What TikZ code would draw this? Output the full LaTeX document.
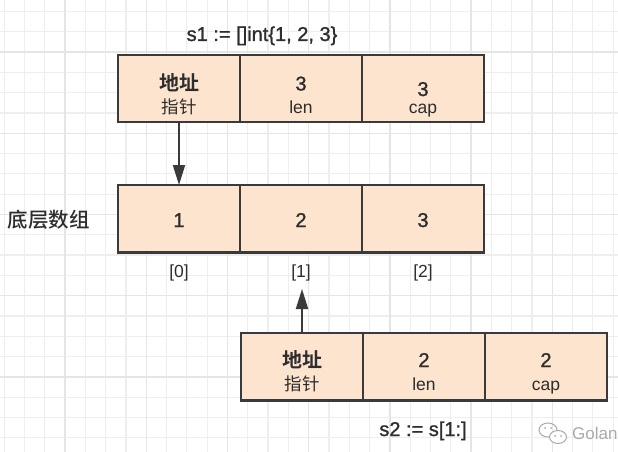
\documentclass[tikz,border=0pt]{standalone}
\usepackage{fontspec}
\setmainfont{Liberation Sans}
\newfontfamily\medium{Liberation Sans}[FakeBold=1.2]
\newfontfamily\cjk{Noto Sans CJK SC}[BoldFont={Noto Sans CJK SC Bold}]
\newfontfamily\cjkmed{Noto Sans CJK SC Medium}
\usetikzlibrary{arrows.meta}
\definecolor{cellfill}{RGB}{252,228,206}
\definecolor{cellline}{RGB}{58,58,58}
\definecolor{txt}{RGB}{45,45,45}
\definecolor{gridminor}{RGB}{238,238,238}
\definecolor{gridmajor}{RGB}{229,229,229}
\definecolor{wm}{RGB}{170,170,170}
\tikzset{
  cell/.style={draw=cellline, fill=cellfill, line width=2.4pt, minimum width=122pt, minimum height=67.5pt, inner sep=0pt, outer sep=0pt},
  big/.style={text=txt, inner sep=0pt, anchor=base, font=\medium\fontsize{20}{20}\selectfont},
  small/.style={text=txt, inner sep=0pt, anchor=base, font=\fontsize{17.5}{17.5}\selectfont},
  cjkbig/.style={text=txt, inner sep=0pt, font=\cjk\bfseries\fontsize{20}{20}\selectfont},
  cjksmall/.style={text=txt, inner sep=0pt, font=\cjk\fontsize{17.5}{17.5}\selectfont},
  idx/.style={text=txt, inner sep=0pt, anchor=base, font=\fontsize{17.5}{17.5}\selectfont},
  ptr/.style={draw=cellline, line width=2pt, -{Triangle[width=12pt,length=20pt]}},
}
\begin{document}
\begin{tikzpicture}[x=1pt,y=-1pt]
\useasboundingbox (0,0) rectangle (618,452);
\begin{scope}
\clip (0,0) rectangle (618,452);
\fill[white] (0,0) rectangle (618,452);
% grid
\foreach \i in {0,...,30} {
  \draw[gridminor, line width=1.2pt] (4.1+20.3*\i,0) -- (4.1+20.3*\i,452);
}
\foreach \i in {0,...,22} {
  \draw[gridminor, line width=1.2pt] (0,11.4+20.3*\i) -- (618,11.4+20.3*\i);
}
\foreach \i in {-1,...,7} {
  \draw[gridmajor, line width=1.4pt] (65+81.2*\i,0) -- (65+81.2*\i,452);
}
\foreach \i in {-1,...,5} {
  \draw[gridmajor, line width=1.4pt] (0,52+81.2*\i) -- (618,52+81.2*\i);
}
% watermark
\draw[wm, line width=1pt] (548,430) ellipse (9pt and 7pt);
\draw[wm, line width=1pt, fill=white] (558,437) ellipse (8.5pt and 6.5pt);
\fill[wm] (555,436) circle (1pt) (561,436) circle (1pt) (545,428) circle (1pt) (551,428) circle (1pt);
\end{scope}
\node[anchor=base west, text=wm, inner sep=0pt, font=\fontsize{17}{17}\selectfont] (wmtext) at (572,439) {Golan};

% top slice s1
\node[cell] (tp) at (179,88.5) {};
\node[cell] (tl) at (301,88.5) {};
\node[cell] (tc) at (423,88.5) {};
\node[cjkbig] (tpa) at (179,83) {地址};
\node[cjksmall] (tpb) at (179,107) {指针};
\node[big] (tla) at (301,90.5) {3};
\node[small] (tlb) at (301,113) {len};
\node[big] (tca) at (423,96) {3};
\node[small] (tcb) at (423,113) {cap};
\node[big] (s1) at (262,41) {s1 := []int\{1, 2, 3\}};

% underlying array
\node[cell] (a0) at (179,218.75) {};
\node[cell] (a1) at (301,218.75) {};
\node[cell] (a2) at (423,218.75) {};
\node[big] (v0) at (179,227) {1};
\node[big] (v1) at (301,227) {2};
\node[big] (v2) at (423,227) {3};
\node[text=txt, inner sep=0pt, font=\cjkmed\fontsize{20.5}{20.5}\selectfont] (arr) at (49,220) {底层数组};
\node[idx] (i0) at (179,277) {[0]};
\node[idx] (i1) at (301,277) {[1]};
\node[idx] (i2) at (423,277) {[2]};

% bottom slice s2
\node[cell] (bp) at (302,366.75) {};
\node[cell] (bl) at (424,366.75) {};
\node[cell] (bc) at (546,366.75) {};
\node[cjkbig] (bpa) at (302,360) {地址};
\node[cjksmall] (bpb) at (302,384) {指针};
\node[big] (bla) at (424,367) {2};
\node[small] (blb) at (424,390) {len};
\node[big] (bca) at (546,367) {2};
\node[small] (bcb) at (546,390) {cap};
\node[big] (s2) at (423,436) {s2 := s[1:]};

% pointers
\coordinate (tip2) at (302,289);
\draw[ptr] (tp.south) -- (a0.north);
\draw[ptr] (bp.north) -- (tip2);
\end{tikzpicture}
\end{document}
